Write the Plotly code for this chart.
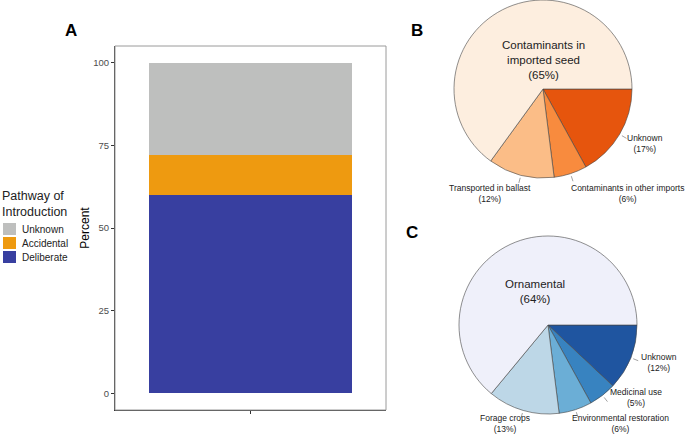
import math
import plotly.graph_objects as go

W, H = 685, 435

# ---------------- Data ----------------
pathway_names = ["Deliberate", "Accidental", "Unknown"]
pathway_values = [60, 12, 28]
pathway_colors = ["#383FA0", "#EE9A10", "#BEBFBE"]

acc_labels = ["Unknown", "Contaminants in other imports", "Transported in ballast",
              "Contaminants in imported seed"]
acc_values = [17, 6, 12, 65]
acc_colors = ["#E6550D", "#F88B3E", "#FBBD87", "#FDEEDF"]

del_labels = ["Unknown", "Medicinal use", "Environmental restoration", "Forage crops",
              "Ornamental"]
del_values = [12, 5, 6, 13, 64]
del_colors = ["#1F55A0", "#3883C0", "#6BAED6", "#BDD7E7", "#EFF0FA"]

FONT = "Liberation Sans, Arial, sans-serif"

def px(x):
    return x / W

def py(y):
    return 1 - y / H

fig = go.Figure()

# ---------------- Panel A: stacked bar ----------------
for name, val, col in zip(pathway_names, pathway_values, pathway_colors):
    fig.add_trace(go.Bar(x=[0], y=[val], name=name, marker=dict(color=col, line=dict(width=0)),
                         width=0.9, showlegend=False, xaxis="x", yaxis="y"))

# ---------------- Pies ----------------
domB = dict(x=[px(454), px(632)], y=[py(178), py(0)])
domC = dict(x=[px(459), px(637)], y=[py(414), py(236)])

fig.add_trace(go.Pie(labels=acc_labels, values=acc_values, sort=False, direction="clockwise",
                     rotation=90, marker=dict(colors=acc_colors, line=dict(color="#444444", width=0.6)),
                     textinfo="none", hoverinfo="label+percent", domain=domB, showlegend=False))
fig.add_trace(go.Pie(labels=del_labels, values=del_values, sort=False, direction="clockwise",
                     rotation=90, marker=dict(colors=del_colors, line=dict(color="#444444", width=0.6)),
                     textinfo="none", hoverinfo="label+percent", domain=domC, showlegend=False))

shapes = []
annotations = []

# leader ticks computed from slice mid-angles
def leaders(dom, values):
    cx = (dom["x"][0] + dom["x"][1]) / 2 * W
    cy = (1 - (dom["y"][0] + dom["y"][1]) / 2) * H
    r = (dom["x"][1] - dom["x"][0]) * W / 2
    total = sum(values)
    cum = 0
    for v in values[:-1]:
        mid = (cum + v / 2) / total * 2 * math.pi
        cum += v
        x0 = cx + r * 1.03 * math.cos(mid)
        y0 = cy + r * 1.03 * math.sin(mid)
        x1 = cx + r * 1.09 * math.cos(mid)
        y1 = cy + r * 1.09 * math.sin(mid)
        shapes.append(dict(type="line", xref="paper", yref="paper", x0=px(x0), y0=py(y0),
                           x1=px(x1), y1=py(y1), line=dict(color="#8A8A8A", width=0.8)))

leaders(domB, acc_values)
leaders(domC, del_values)

def label(x, y, text, size, color="#222222", bold=False, xanchor="center", align="center"):
    if bold:
        text = "<b>" + text + "</b>"
    annotations.append(dict(x=px(x), y=py(y), xref="paper", yref="paper", text=text,
                            showarrow=False, xanchor=xanchor, yanchor="middle", align=align,
                            font=dict(family=FONT, size=size, color=color)))

# Pie B labels
label(543, 60, "Contaminants in<br>imported seed<br>(%d%%)" % acc_values[3], 11.5)
label(645, 143, "Unknown<br>(%d%%)" % acc_values[0], 8.5)
label(627, 193.5, "Contaminants in other imports<br>(%d%%)" % acc_values[1], 8.5)
label(490, 193.5, "Transported in ballast<br>(%d%%)" % acc_values[2], 8.5)

# Pie C labels
label(535, 291, "Ornamental<br>(%d%%)" % del_values[4], 11.5)
label(659, 362, "Unknown<br>(%d%%)" % del_values[0], 8.5)
label(636, 397, "Medicinal use<br>(%d%%)" % del_values[1], 8.5)
label(620, 423, "Environmental restoration<br>(%d%%)" % del_values[2], 8.5)
label(505, 423, "Forage crops<br>(%d%%)" % del_values[3], 8.5)

# Panel letters
label(71, 30, "A", 17, color="black", bold=True)
label(417, 30, "B", 17, color="black", bold=True)
label(412, 232, "C", 17, color="black", bold=True)

# Manual legend
label(0, 204, "Pathway of<br>Introduction", 12.5, color="#222222", xanchor="left", align="left")
leg_order = ["Unknown", "Accidental", "Deliberate"]
for i, name in enumerate(leg_order):
    col = pathway_colors[pathway_names.index(name)]
    y0 = 223 + i * 14
    shapes.append(dict(type="rect", xref="paper", yref="paper", x0=px(3), x1=px(16),
                       y0=py(y0), y1=py(y0 + 12), fillcolor=col, line=dict(width=0)))
    label(20, y0 + 6.5, name, 10, color="#222222", xanchor="left", align="left")

# Panel border (grey top/right)
shapes.append(dict(type="rect", xref="paper", yref="paper", x0=px(115), x1=px(386),
                   y0=py(410), y1=py(46), line=dict(color="#9A9A9A", width=1), layer="above"))

fig.update_layout(
    width=W, height=H, autosize=False,
    margin=dict(l=0, r=0, t=0, b=0),
    paper_bgcolor="white", plot_bgcolor="white",
    barmode="stack", bargap=0,
    font=dict(family=FONT),
    xaxis=dict(domain=[px(115), px(386)], range=[-0.6, 0.6], tickvals=[0], ticktext=[""],
               ticks="outside", ticklen=3, tickcolor="#333333", showgrid=False, zeroline=False,
               showline=True, linecolor="#333333", linewidth=1.2, fixedrange=True),
    yaxis=dict(domain=[py(410), py(46)], range=[-5, 105], tickvals=[0, 25, 50, 75, 100],
               ticks="outside", ticklen=3, tickcolor="#333333", showgrid=False, zeroline=False,
               showline=True, linecolor="#333333", linewidth=1.2,
               tickfont=dict(family=FONT, size=9.5, color="#4D4D4D"),
               title=dict(text="Percent", font=dict(family=FONT, size=12, color="black"), standoff=0)),
    shapes=shapes,
    annotations=annotations,
)

fig.write_html("out.html", config={"displayModeBar": False},
               post_script="document.body.style.margin='0';document.body.style.padding='0';")
